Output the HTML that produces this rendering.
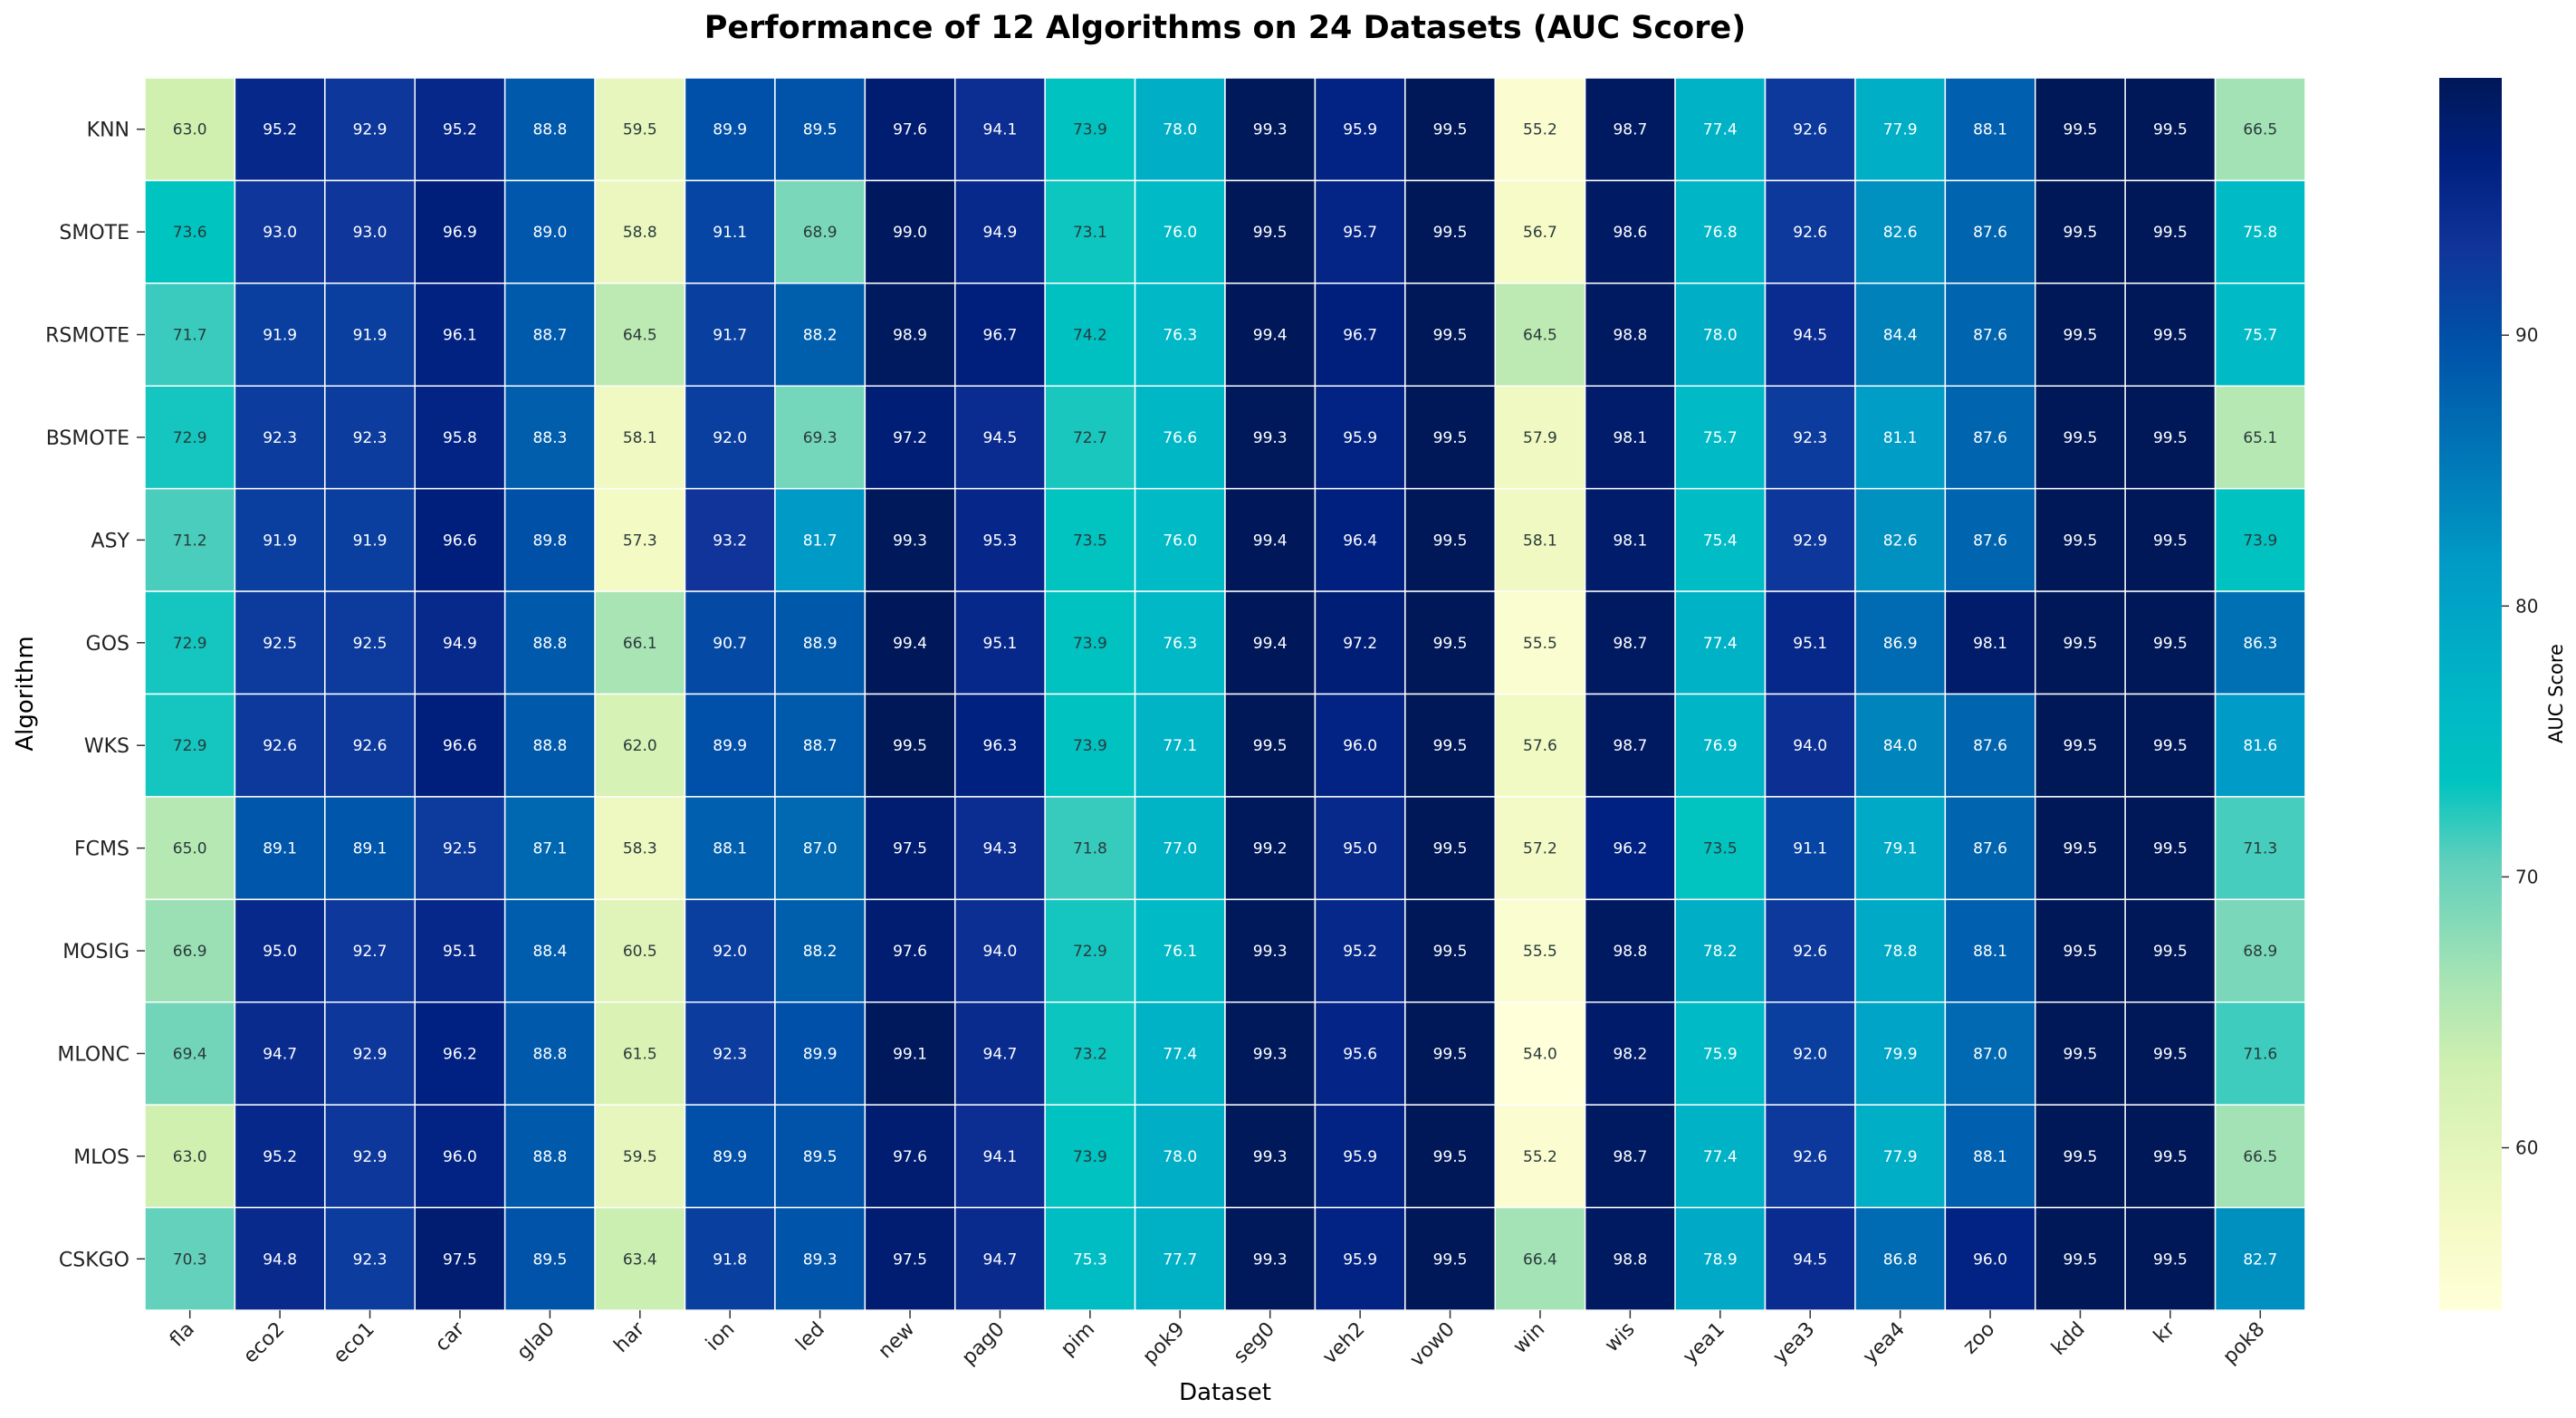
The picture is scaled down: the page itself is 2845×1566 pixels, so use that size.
<!DOCTYPE html>
<html><head><meta charset="utf-8"><style>
html,body{margin:0;padding:0;background:#fff;}
svg{display:block;font-family:"DejaVu Sans","Liberation Sans",sans-serif;}
</style></head><body>
<svg id="chart" width="2845" height="1566" viewBox="0 0 2845 1566" xmlns="http://www.w3.org/2000/svg">
<defs>
<linearGradient id="cbgrad" x1="0" y1="1" x2="0" y2="0"></linearGradient>
</defs>
<text x="1353" y="42" text-anchor="middle" font-size="35" font-weight="bold" fill="#000">Performance of 12 Algorithms on 24 Datasets (AUC Score)</text>
<g id="cells"></g>
<g id="yticks"></g>
<g id="xticks"></g>
<text x="0" y="0" transform="translate(36,766) rotate(-90)" text-anchor="middle" font-size="26" fill="#000">Algorithm</text>
<text x="1353" y="1546" text-anchor="middle" font-size="26" fill="#000">Dataset</text>
<rect x="2694" y="86" width="69" height="1361" fill="url(#cbgrad)"/>
<g id="cbticks"></g>
<text x="0" y="0" transform="translate(2830,766) rotate(-90)" text-anchor="middle" font-size="21" fill="#000">AUC Score</text>
</svg>
<script>
const algorithms = ["KNN","SMOTE","RSMOTE","BSMOTE","ASY","GOS","WKS","FCMS","MOSIG","MLONC","MLOS","CSKGO"];
const datasets = ["fla","eco2","eco1","car","gla0","har","ion","led","new","pag0","pim","pok9","seg0","veh2","vow0","win","wis","yea1","yea3","yea4","zoo","kdd","kr","pok8"];
const rowKNN =    [63.0,95.2,92.9,95.2,88.8,59.5,89.9,89.5,97.6,94.1,73.9,78.0,99.3,95.9,99.5,55.2,98.7,77.4,92.6,77.9,88.1,99.5,99.5,66.5];
const rowSMOTE =  [73.6,93.0,93.0,96.9,89.0,58.8,91.1,68.9,99.0,94.9,73.1,76.0,99.5,95.7,99.5,56.7,98.6,76.8,92.6,82.6,87.6,99.5,99.5,75.8];
const rowRSMOTE = [71.7,91.9,91.9,96.1,88.7,64.5,91.7,88.2,98.9,96.7,74.2,76.3,99.4,96.7,99.5,64.5,98.8,78.0,94.5,84.4,87.6,99.5,99.5,75.7];
const rowBSMOTE = [72.9,92.3,92.3,95.8,88.3,58.1,92.0,69.3,97.2,94.5,72.7,76.6,99.3,95.9,99.5,57.9,98.1,75.7,92.3,81.1,87.6,99.5,99.5,65.1];
const rowASY =    [71.2,91.9,91.9,96.6,89.8,57.3,93.2,81.7,99.3,95.3,73.5,76.0,99.4,96.4,99.5,58.1,98.1,75.4,92.9,82.6,87.6,99.5,99.5,73.9];
const rowGOS =    [72.9,92.5,92.5,94.9,88.8,66.1,90.7,88.9,99.4,95.1,73.9,76.3,99.4,97.2,99.5,55.5,98.7,77.4,95.1,86.9,98.1,99.5,99.5,86.3];
const rowWKS =    [72.9,92.6,92.6,96.6,88.8,62.0,89.9,88.7,99.5,96.3,73.9,77.1,99.5,96.0,99.5,57.6,98.7,76.9,94.0,84.0,87.6,99.5,99.5,81.6];
const rowFCMS =   [65.0,89.1,89.1,92.5,87.1,58.3,88.1,87.0,97.5,94.3,71.8,77.0,99.2,95.0,99.5,57.2,96.2,73.5,91.1,79.1,87.6,99.5,99.5,71.3];
const rowMOSIG =  [66.9,95.0,92.7,95.1,88.4,60.5,92.0,88.2,97.6,94.0,72.9,76.1,99.3,95.2,99.5,55.5,98.8,78.2,92.6,78.8,88.1,99.5,99.5,68.9];
const rowMLONC =  [69.4,94.7,92.9,96.2,88.8,61.5,92.3,89.9,99.1,94.7,73.2,77.4,99.3,95.6,99.5,54.0,98.2,75.9,92.0,79.9,87.0,99.5,99.5,71.6];
const rowMLOS =   [63.0,95.2,92.9,96.0,88.8,59.5,89.9,89.5,97.6,94.1,73.9,78.0,99.3,95.9,99.5,55.2,98.7,77.4,92.6,77.9,88.1,99.5,99.5,66.5];
const rowCSKGO =  [70.3,94.8,92.3,97.5,89.5,63.4,91.8,89.3,97.5,94.7,75.3,77.7,99.3,95.9,99.5,66.4,98.8,78.9,94.5,86.8,96.0,99.5,99.5,82.7];
const values = [rowKNN,rowSMOTE,rowRSMOTE,rowBSMOTE,rowASY,rowGOS,rowWKS,rowFCMS,rowMOSIG,rowMLONC,rowMLOS,rowCSKGO];
const cbTicks = [60,70,80,90];

const NS = "http://www.w3.org/2000/svg";
const L = 160, R = 2546, T = 86, B = 1447;
const cw = (R - L) / datasets.length, ch = (B - T) / algorithms.length;
const all = values.flat();
const vmin = Math.min(...all), vmax = Math.max(...all);
// colormap stops in normalized [0,1] space (saturated YlGnBu as in reference)
const cmStops = [
  [0.000,"#ffffd9"],[0.073,"#f4fac4"],[0.198,"#d0f0b0"],[0.266,"#a8e4b4"],
  [0.363,"#60d0bc"],[0.429,"#00c4c0"],[0.484,"#00bac6"],[0.609,"#009ac6"],
  [0.631,"#0090c0"],[0.787,"#0050a8"],[0.862,"#10349a"],[0.932,"#002080"],[1.000,"#001858"]
].map(s=>[s[0],[parseInt(s[1].slice(1,3),16),parseInt(s[1].slice(3,5),16),parseInt(s[1].slice(5,7),16)],s[1]]);
function cmap(v){
  let t = (v - vmin) / (vmax - vmin); t = Math.max(0, Math.min(1, t));
  for (let i = 0; i < cmStops.length - 1; i++) {
    const a = cmStops[i], b = cmStops[i+1];
    if (t <= b[0]) { const f = (t - a[0]) / (b[0] - a[0]); return a[1].map((c,k)=>Math.round(c + (b[1][k]-c)*f)); }
  }
  return cmStops[cmStops.length-1][1];
}
const grad = document.getElementById("cbgrad");
cmStops.forEach(s => {
  const st = document.createElementNS(NS, "stop");
  st.setAttribute("offset", s[0]); st.setAttribute("stop-color", s[2]);
  grad.appendChild(st);
});
function lum(rgb){
  const c = rgb.map(x=>{x/=255;return x<=0.03928?x/12.92:Math.pow((x+0.055)/1.055,2.4);});
  return 0.2126*c[0]+0.7152*c[1]+0.0722*c[2];
}
const xs = i => L + i * cw;
const ys = j => T + j * ch;
const cbY = v => T + (vmax - v) / (vmax - vmin) * (B - T);
function mk(tag, attrs, parent, txt){
  const e = document.createElementNS(NS, tag);
  for (const k in attrs) e.setAttribute(k, attrs[k]);
  if (txt !== undefined) e.textContent = txt;
  parent.appendChild(e); return e;
}
const gc = document.getElementById("cells");
values.forEach((row, j) => {
  row.forEach((v, i) => {
    const rgb = cmap(v);
    const r = mk("rect", {x: xs(i), y: ys(j), width: cw, height: ch, fill: `rgb(${rgb})`, stroke: "#fff", "stroke-width": 1.5}, gc);
    
    
    const t = mk("text", {x: xs(i) + cw/2, y: ys(j) + ch/2 + 6, "text-anchor": "middle", "font-size": 17, fill: lum(rgb) > 0.408 ? "#2a3a3a" : "#ffffff"}, gc, v.toFixed(1));
    
    
  });
});
const gy = document.getElementById("yticks");
algorithms.forEach((a, j) => {
  const cy = ys(j) + ch/2;
  const ln = mk("line", {x1: 151, x2: 160, y1: cy, y2: cy, stroke: "#333", "stroke-width": 1.5}, gy);
  
  
  const t = mk("text", {x: 143, y: cy + 8, "text-anchor": "end", "font-size": 22, fill: "#222"}, gy, a);
  
  
});
const gx = document.getElementById("xticks");
datasets.forEach((d, i) => {
  const cx = xs(i) + cw/2;
  const ln = mk("line", {x1: cx, x2: cx, y1: B, y2: B + 9, stroke: "#333", "stroke-width": 1.5}, gx);
  
  
  const t = mk("text", {x: 0, y: 0, transform: `translate(${cx + 6},${B + 22}) rotate(-45)`, "text-anchor": "end", "font-size": 22, fill: "#222"}, gx, d);
  
  
});
const gcb = document.getElementById("cbticks");
cbTicks.forEach(v => {
  const y = cbY(v);
  const ln = mk("line", {x1: 2763, x2: 2771, y1: y, y2: y, stroke: "#333", "stroke-width": 1.5}, gcb);
  
  
  const t = mk("text", {x: 2778, y: y + 7, "font-size": 20, fill: "#222"}, gcb, String(v));
  
  
});
</script>
</body></html>
